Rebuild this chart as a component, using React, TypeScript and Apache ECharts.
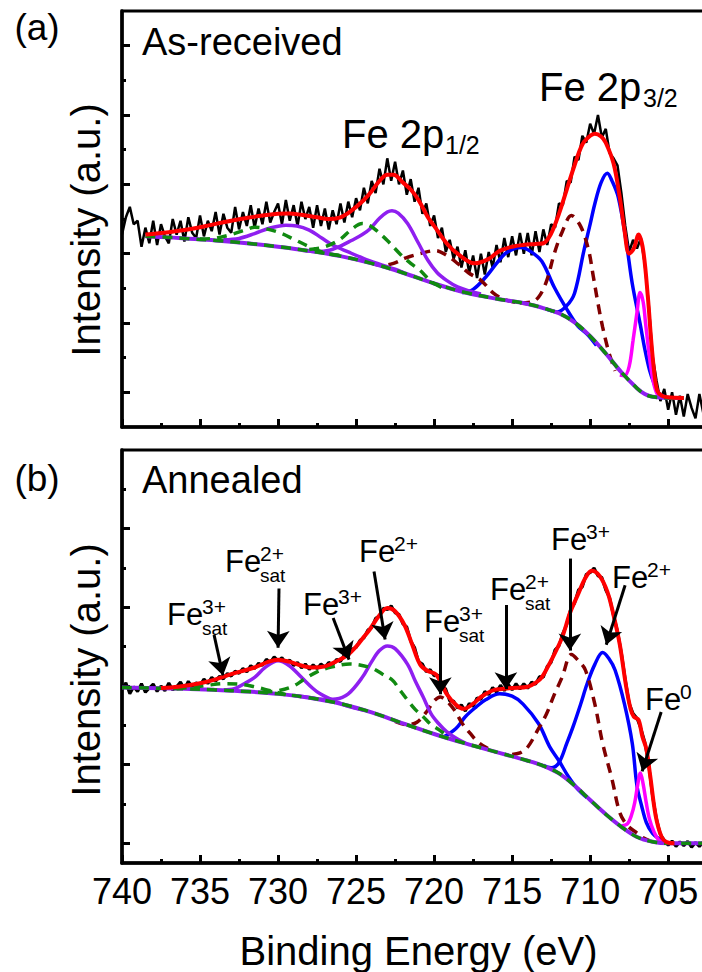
import React, { useEffect, useRef } from "react";
import * as echarts from "echarts";

const FONT = "'Liberation Sans', Arial, Helvetica, sans-serif";

// energy grid of the raw spectra (eV), from 740 down in 0.25 eV steps
const E_START = 740;
const E_STEP = 0.25;

// ---------- Panel (a): As-received ----------
const rawA = [
  5.55, 6.05, 6.35, 5.85, 5.95, 5.2, 5.75, 5.3, 5.95, 5.25,
  5.85, 5.5, 5.3, 6.0, 5.55, 5.95, 5.35, 6.05, 5.6, 5.45,
  6.1, 5.5, 5.95, 5.65, 6.2, 5.55, 6.15, 5.75, 5.6, 6.35,
  5.7, 6.2, 5.8, 6.4, 5.75, 6.3, 5.85, 6.5, 5.9, 6.2,
  6.45, 5.85, 6.55, 5.95, 6.4, 5.8, 6.5, 6.0, 6.35, 5.75,
  6.4, 5.8, 6.3, 5.7, 6.25, 5.85, 6.45, 5.9, 6.5, 6.05,
  6.6, 6.25, 6.9, 6.45, 7.1, 6.75, 7.45, 7.0, 7.75, 7.1,
  7.65, 7.0, 7.4, 6.7, 7.15, 6.5, 6.9, 6.15, 6.45, 5.8,
  6.1, 5.45, 5.75, 5.05, 5.4, 4.85, 5.2, 4.6, 5.1, 4.45,
  4.95, 4.3, 5.0, 4.4, 5.05, 4.6, 5.25, 4.75, 5.45, 4.9,
  5.5, 4.95, 5.6, 5.0, 5.6, 4.95, 5.65, 5.05, 5.7, 5.25,
  5.85, 5.75, 6.45, 6.4, 7.1, 7.05, 7.8, 7.7, 8.4, 8.2,
  8.75, 8.45, 9.0, 8.35, 8.6, 7.9, 7.75, 7.55, 6.75, 5.8,
  5.05, 5.4, 5.15, 5.45, 4.7, 3.55, 2.05, 1.35, 0.75, 1.1,
  0.5, 1.0, 0.35, 0.9, 0.3, 0.95, 0.55, 0.25, 0.95, 0.4,
  0.85,
];

const envelopeA = [
  [738.5, 5.55], [737, 5.62], [736, 5.68], [735, 5.76], [734, 5.86], [733, 5.95], [732, 6.03],
  [731, 6.1], [730, 6.15], [729.3, 6.16], [728.5, 6.12], [727.5, 6.05], [726.8, 6.0], [726, 6.05],
  [725.3, 6.24], [724.5, 6.55], [724, 6.8], [723.5, 7.1], [723, 7.28], [722.6, 7.28], [722, 7.05],
  [721.5, 6.85], [721, 6.55], [720.4, 6.05], [720, 5.8], [719.2, 5.3], [718.5, 5.0], [717.4, 4.72],
  [716.5, 4.85], [715.8, 5.08], [715, 5.2], [714.3, 5.25], [713.5, 5.28], [713, 5.3], [712.5, 5.58],
  [712, 6.15], [711.5, 6.85], [711, 7.55], [710.5, 8.15], [710, 8.4], [709.7, 8.46], [709.3, 8.38],
  [709, 8.2], [708.5, 7.6], [708.1, 6.62], [707.8, 5.67], [707.5, 5.0], [707.2, 5.15], [706.9, 5.55],
  [706.6, 5.09], [706.3, 3.74], [706.1, 2.56], [705.9, 1.6], [705.7, 1.05], [705.4, 0.9], [705, 0.86],
  [704, 0.84],
];

const backgroundA = [
  [738.5, 5.5], [737, 5.47], [736, 5.44], [734, 5.38], [732, 5.3], [730, 5.2], [728, 5.08],
  [726, 4.93], [724, 4.72], [722, 4.45], [720, 4.14], [718, 3.88], [716, 3.7], [714, 3.55],
  [713, 3.43], [712, 3.28], [711, 3.02], [710, 2.62], [709, 2.12], [708, 1.58], [707, 1.12],
  [706.5, 0.95], [706, 0.87], [705, 0.84], [704, 0.84],
];

const purpleA1 = [
  [733.5, 5.4], [732.5, 5.44], [731.5, 5.58], [730.5, 5.74], [729.5, 5.82], [728.8, 5.8],
  [728, 5.68], [727.2, 5.45], [726.5, 5.25], [725.5, 5.05], [724.5, 4.86], [723.5, 4.7],
  [722.5, 4.55], [722, 4.46],
];
const purpleA2 = [
  [728.5, 5.1], [727.5, 5.06], [726.7, 5.1], [726, 5.22], [725.3, 5.38], [724.6, 5.55],
  [724.1, 5.72], [723.5, 6.02], [723, 6.2], [722.7, 6.24], [722.3, 6.17], [721.7, 5.87],
  [721, 5.3], [720.4, 4.81], [719.8, 4.45], [719.2, 4.23], [718.5, 4.04], [717.7, 3.92], [717, 3.84],
];
const greenA1 = [
  [735, 5.42], [734, 5.45], [733, 5.55], [732, 5.7], [731.5, 5.76], [731, 5.74], [730, 5.62],
  [729, 5.42], [728, 5.2], [727, 5.02], [726, 4.95],
];
const greenA2 = [
  [728, 5.12], [727, 5.2], [726, 5.42], [725.3, 5.7], [724.6, 5.87], [724.1, 5.8], [723.7, 5.67],
  [723, 5.38], [722.2, 5.0], [721.5, 4.72], [720.9, 4.52], [720.2, 4.2], [719.5, 4.02],
];
const brownA1 = [
  [724, 4.72], [723.3, 4.66], [722.6, 4.72], [721.8, 4.88], [720.9, 5.0], [719.9, 5.09],
  [719.2, 4.95], [718.5, 4.72], [717.8, 4.45], [717, 4.23], [716.2, 3.86], [715.5, 3.68],
  [714.8, 3.6], [714, 3.55],
];
const brownA2 = [
  [714.5, 3.58], [713.8, 3.6], [713.3, 3.75], [712.8, 4.2], [712.3, 5.0], [711.8, 5.62],
  [711.2, 6.1], [710.6, 5.78], [710.1, 5.1], [709.8, 4.35], [709.5, 3.57], [709.2, 2.88],
  [708.8, 2.15], [708.4, 1.62],
];
const blueA1 = [
  [718.2, 3.87], [717.5, 3.97], [716.7, 4.32], [716, 4.72], [715.5, 4.98], [714.9, 5.14],
  [714.4, 5.18], [713.8, 5.06], [713.1, 4.78], [712.3, 4.03], [711.5, 3.4], [710.8, 2.92],
  [710.2, 2.68], [709.6, 2.35],
];
const blueA2 = [
  [712.8, 3.4], [712.1, 3.32], [711.5, 3.5], [711, 3.86], [710.4, 5.09], [710, 5.85],
  [709.7, 6.44], [709.3, 7.05], [708.9, 7.32], [708.6, 7.1], [708.2, 6.63], [707.7, 5.38],
  [707.3, 4.13], [706.8, 2.98], [706.5, 2.25], [706.2, 1.65], [705.9, 1.25], [705.6, 0.98],
  [705.2, 0.87], [704.8, 0.84],
];
const magentaA = [
  [708.1, 1.5], [707.8, 1.48], [707.5, 1.75], [707.25, 2.5], [707, 3.3], [706.8, 3.88],
  [706.6, 3.6], [706.45, 3.0], [706.3, 2.4], [706.15, 1.84], [705.95, 1.3], [705.7, 0.95],
  [705.4, 0.86],
];

// ---------- Panel (b): Annealed ----------
const rawB = [
  3.92, 4.08, 3.8, 3.98, 3.86, 4.06, 3.84, 3.95, 4.05, 3.86,
  4.0, 3.88, 4.08, 3.9, 3.98, 4.1, 3.92, 4.12, 3.98, 4.08,
  4.02, 4.18, 4.06, 4.22, 4.12, 4.25, 4.18, 4.32, 4.25, 4.38,
  4.32, 4.45, 4.36, 4.52, 4.44, 4.58, 4.52, 4.68, 4.6, 4.74,
  4.64, 4.72, 4.58, 4.66, 4.52, 4.6, 4.46, 4.56, 4.42, 4.54,
  4.44, 4.56, 4.48, 4.6, 4.54, 4.68, 4.62, 4.8, 4.76, 4.94,
  4.98, 5.16, 5.22, 5.42, 5.48, 5.72, 5.78, 5.98, 5.94, 6.04,
  5.86, 5.82, 5.58, 5.5, 5.14, 4.98, 4.62, 4.56, 4.36, 4.42,
  4.26, 4.28, 4.02, 3.92, 3.62, 3.62, 3.44, 3.52, 3.36, 3.56,
  3.48, 3.7, 3.66, 3.86, 3.78, 3.96, 3.84, 4.02, 3.88, 4.04,
  3.9, 4.06, 3.92, 4.06, 3.94, 4.1, 4.04, 4.24, 4.22, 4.5,
  4.6, 4.92, 5.02, 5.34, 5.56, 5.96, 6.1, 6.44, 6.52, 6.84,
  6.88, 7.0, 6.8, 6.76, 6.44, 6.24, 5.78, 5.4, 4.84, 4.16,
  3.56, 3.3, 3.18, 2.92, 2.58, 2.0, 1.2, 0.62, 0.22, 0.08,
  -0.05, 0.06, -0.08, 0.04, -0.06, 0.05, -0.1, 0.02, -0.08, 0.04,
  -0.06,
];

const envelopeB = [
  [737.5, 3.95], [736.4, 3.98], [735, 4.07], [734, 4.17], [733, 4.3], [731.5, 4.47], [730.6, 4.62],
  [730, 4.67], [729.3, 4.62], [728.5, 4.52], [727.8, 4.47], [727, 4.5], [726.3, 4.62], [725.6, 4.77],
  [725, 5.0], [724.5, 5.25], [724.1, 5.45], [723.5, 5.8], [723, 5.98], [722.5, 5.9], [721.9, 5.55],
  [721.4, 5.05], [720.9, 4.55], [720.4, 4.38], [719.9, 4.3], [719.5, 4.05], [719.2, 3.8],
  [718.6, 3.52], [718.1, 3.42], [717.5, 3.55], [717, 3.72], [716.3, 3.88], [715.8, 3.92],
  [715, 3.95], [714, 3.98], [713.5, 4.08], [713.1, 4.22], [712.5, 4.65], [711.8, 5.23],
  [711.3, 5.85], [710.8, 6.31], [710.3, 6.75], [709.9, 6.93], [709.4, 6.8], [708.9, 6.4],
  [708.5, 5.8], [708.1, 5.05], [707.7, 4.0], [707.4, 3.4], [707.2, 3.22], [706.9, 3.14],
  [706.65, 2.71], [706.4, 2.4], [706.15, 1.71], [705.8, 0.7], [705.42, 0.16], [705.1, 0.03],
  [704.6, 0.0],
];

const backgroundB = [
  [740, 3.96], [736, 3.93], [734, 3.9], [732, 3.86], [730, 3.8], [728, 3.7], [726, 3.55],
  [724, 3.33], [722, 3.05], [720, 2.78], [718, 2.54], [716, 2.32], [714, 2.1], [713, 1.97],
  [712, 1.78], [711, 1.47], [710, 1.1], [709, 0.74], [708, 0.42], [707, 0.16], [706, 0.04],
  [705, 0.0], [702.5, 0.0],
];

const purpleB1 = [
  [733.5, 3.9], [732.8, 3.93], [732.2, 4.05], [731.5, 4.22], [730.8, 4.48], [730, 4.64],
  [729.3, 4.52], [728.5, 4.22], [727.8, 3.95], [727.3, 3.8], [726.5, 3.64], [725.5, 3.48],
  [724.5, 3.38],
];
const purpleB2 = [
  [729, 3.76], [728, 3.71], [727.2, 3.66], [726.3, 3.67], [725.5, 3.8], [724.6, 4.22],
  [724, 4.62], [723.5, 4.9], [723, 5.02], [722.5, 4.95], [721.7, 4.55], [721.2, 4.12],
  [720.7, 3.72], [720.2, 3.3], [719.7, 3.04], [719.2, 2.84], [718.5, 2.65], [718, 2.55],
];
const greenB1 = [
  [736.5, 3.93], [735.5, 3.97], [734.5, 4.02], [733.5, 4.06], [732.5, 4.05], [731.5, 3.98],
  [730.5, 3.88], [729.5, 3.78],
];
const greenB2 = [
  [731, 3.84], [730, 3.88], [729, 4.0], [728.3, 4.18], [727.5, 4.36], [726.6, 4.48],
  [725.4, 4.56], [724.1, 4.47], [723.3, 4.3], [722.65, 4.14], [722.2, 3.9], [721.7, 3.64],
  [721.2, 3.4], [720.7, 3.22], [720.2, 3.02], [719.7, 2.89], [719, 2.68],
];
const brownB1 = [
  [722.5, 3.1], [721.8, 3.02], [721.1, 3.08], [720.4, 3.39], [720, 3.62], [719.6, 3.72],
  [719.2, 3.62], [718.7, 3.39], [718.2, 3.05], [717.7, 2.8], [717.2, 2.58], [716.6, 2.42],
  [716, 2.32],
];
const brownB2 = [
  [715, 2.26], [714.5, 2.3], [714, 2.45], [713.4, 2.85], [712.8, 3.29], [712.3, 3.78],
  [711.8, 4.22], [711.2, 4.8], [710.7, 4.62], [710.3, 4.4], [709.7, 3.54], [709.2, 2.54],
  [708.6, 1.63], [708.1, 0.78], [707.6, 0.45], [707, 0.26], [706.6, 0.14], [706.2, 0.07],
];
const blueB1 = [
  [719.4, 2.7], [718.6, 2.92], [718, 3.22], [717.3, 3.47], [716.7, 3.65], [715.8, 3.8],
  [715, 3.74], [714.3, 3.54], [713.3, 3.04], [712.6, 2.46], [712, 2.1], [711.4, 1.7],
  [710.8, 1.38], [710.2, 1.16],
];
const blueB2 = [
  [713, 1.98], [712.5, 1.92], [712, 2.05], [711.5, 2.54], [711.1, 2.96], [710.6, 3.55],
  [710.2, 4.05], [709.7, 4.55], [709.2, 4.85], [708.8, 4.7], [708.4, 4.4], [707.8, 3.54],
  [707.3, 2.54], [707, 1.46], [706.7, 0.95], [706.4, 0.53], [706, 0.25], [705.6, 0.12],
  [705.2, 0.04],
];
const magentaB = [
  [708, 0.44], [707.6, 0.5], [707.35, 0.72], [707.14, 1.04], [706.95, 1.5], [706.78, 1.79],
  [706.6, 1.5], [706.41, 1.04], [706.2, 0.62], [705.9, 0.28], [705.6, 0.08], [705.3, 0.02],
];

// arrows of panel (b), [from, to] in data coordinates (eV, intensity)
const arrowsB = [
  [[734.1, 5.3], [733.53, 4.27]],
  [[729.94, 6.48], [730.0, 4.97]],
  [[726.47, 5.73], [725.45, 4.67]],
  [[723.85, 6.91], [723.14, 5.18]],
  [[719.6, 5.23], [719.6, 3.79]],
  [[715.4, 6.06], [715.4, 3.92]],
  [[711.3, 7.24], [711.3, 4.9]],
  [[707.76, 6.56], [708.97, 5.05]],
  [[705.45, 3.34], [706.67, 1.83]],
];

// ticks
const xMajorTicks = [740, 735, 730, 725, 720, 715, 710, 705];
const xMinorTicks = [737.5, 732.5, 727.5, 722.5, 717.5, 712.5, 707.5, 702.5];
const yMajorA = [1, 3, 5, 7, 9, 11];
const yMinorA = [2, 4, 6, 8, 10];
const yMajorB = [0, 2, 4, 6, 8];
const yMinorB = [1, 3, 5, 7, 9];

const X_MIN = 702;
const X_MAX = 740;

// labels of panel (b): position of "Fe", superscript, subscript
const feLabels = [
  { x: 167, y: 614, sup: "3+", sub: "sat" },
  { x: 225, y: 561, sup: "2+", sub: "sat" },
  { x: 303, y: 604, sup: "3+", sub: "" },
  { x: 359, y: 551, sup: "2+", sub: "" },
  { x: 424, y: 621, sup: "3+", sub: "sat" },
  { x: 490, y: 589, sup: "2+", sub: "sat" },
  { x: 551, y: 539, sup: "3+", sub: "" },
  { x: 612, y: 577, sup: "2+", sub: "" },
  { x: 645, y: 699, sup: "0", sub: "" },
];

function rawSeries(values: number[]) {
  return values.map((v, i) => [E_START - i * E_STEP, v]);
}

function txt(x: number, y: number, text: string, size: number, align = "left", rotation = 0) {
  return {
    type: "text",
    x,
    y,
    rotation,
    silent: true,
    style: { text, fontSize: size, fontFamily: FONT, fill: "#000", align, verticalAlign: "middle" },
  };
}

function curve(name: string, data: number[][], color: string, width: number, panel: number, opts: any = {}) {
  return {
    name,
    type: "line",
    xAxisIndex: panel * 2,
    yAxisIndex: panel * 2,
    data,
    showSymbol: false,
    symbol: "none",
    smooth: opts.smooth === undefined ? 0.35 : opts.smooth,
    lineStyle: { color, width, type: opts.dash ? [10, 7] : "solid", cap: "butt" },
    z: opts.z || 2,
    silent: true,
    ...(opts.extra || {}),
  };
}

const BLACK = "#000000";
const RED = "#ff0000";
const BLUE = "#0000ff";
const PURPLE = "#8f1ff0";
const MAGENTA = "#ff00ff";
const GREEN = "#118a11";
const BROWN = "#800000";

function xAxes(grid: number, labels: boolean) {
  const common = {
    type: "value",
    gridIndex: grid,
    min: X_MIN,
    max: X_MAX,
    inverse: true,
    position: "bottom",
    splitLine: { show: false },
  };
  return [
    {
      ...common,
      axisLine: { show: true, onZero: false, lineStyle: { color: BLACK, width: 3.5 } },
      axisTick: { show: true, inside: true, length: 8, lineStyle: { color: BLACK, width: 3 }, customValues: xMajorTicks },
      axisLabel: labels
        ? { show: true, customValues: xMajorTicks, fontSize: 36, fontFamily: FONT, color: BLACK, margin: 10 }
        : { show: false },
      ...(labels
        ? {
            name: "Binding Energy (eV)",
            nameLocation: "middle",
            nameGap: 68,
            nameTextStyle: { fontSize: 40, fontFamily: FONT, color: BLACK },
          }
        : {}),
    },
    {
      ...common,
      axisLine: { show: false, onZero: false },
      axisTick: { show: true, inside: true, length: 4, lineStyle: { color: BLACK, width: 3 }, customValues: xMinorTicks },
      axisLabel: { show: false },
    },
  ];
}

function yAxes(grid: number, min: number, max: number, major: number[], minor: number[]) {
  const common = {
    type: "value",
    gridIndex: grid,
    min,
    max,
    position: "left",
    splitLine: { show: false },
    axisLabel: { show: false },
  };
  return [
    {
      ...common,
      axisLine: { show: true, onZero: false, lineStyle: { color: BLACK, width: 3.5 } },
      axisTick: { show: true, inside: true, length: 8, lineStyle: { color: BLACK, width: 3 }, customValues: major },
    },
    {
      ...common,
      axisLine: { show: false, onZero: false },
      axisTick: { show: true, inside: true, length: 4, lineStyle: { color: BLACK, width: 3 }, customValues: minor },
    },
  ];
}

function buildOption() {
  const graphics: any[] = [
    txt(37, 27, "(a)", 37, "center"),
    txt(142, 42, "As-received", 38),
    txt(342, 134, "Fe 2p", 40),
    txt(445, 145, "1/2", 25),
    txt(539, 87, "Fe 2p", 40),
    txt(643, 98, "3/2", 25),
    txt(37, 478, "(b)", 37, "center"),
    txt(142, 480, "Annealed", 38),
    txt(86, 230, "Intensity (a.u.)", 40, "center", Math.PI / 2),
    txt(86, 670, "Intensity (a.u.)", 40, "center", Math.PI / 2),
  ];
  feLabels.forEach((l) => {
    graphics.push(txt(l.x, l.y, "Fe", 31));
    graphics.push(txt(l.x + 35, l.y - 8, l.sup, 21));
    if (l.sub) graphics.push(txt(l.x + 35, l.y + 14, l.sub, 19));
  });

  const arrowLines = arrowsB.map((a) => [
    { coord: a[0], symbol: "none" },
    { coord: a[1], symbol: "arrow", symbolSize: 17 },
  ]);

  const series = [
    // panel (a)
    curve("rawA", rawSeries(rawA), BLACK, 2.5, 0, { smooth: false, z: 1 }),
    curve("blueA1", blueA1, BLUE, 3.5, 0),
    curve("blueA2", blueA2, BLUE, 3.5, 0),
    curve("brownA1", brownA1, BROWN, 3.5, 0, { dash: true }),
    curve("brownA2", brownA2, BROWN, 3.5, 0, { dash: true }),
    curve("magentaA", magentaA, MAGENTA, 3.5, 0),
    curve("purpleA1", purpleA1, PURPLE, 3.5, 0),
    curve("purpleA2", purpleA2, PURPLE, 3.5, 0),
    curve("bgA", backgroundA, PURPLE, 4, 0),
    curve("greenA1", greenA1, GREEN, 3.5, 0, { dash: true }),
    curve("greenA2", greenA2, GREEN, 3.5, 0, { dash: true }),
    curve("bgA-dash", backgroundA, GREEN, 3.5, 0, { dash: true }),
    curve("envelopeA", envelopeA, RED, 4, 0, { z: 3 }),
    // panel (b)
    curve("rawB", rawSeries(rawB), BLACK, 3, 1, { smooth: false, z: 1 }),
    curve("blueB1", blueB1, BLUE, 3.5, 1),
    curve("blueB2", blueB2, BLUE, 3.5, 1),
    curve("brownB1", brownB1, BROWN, 3.5, 1, { dash: true }),
    curve("brownB2", brownB2, BROWN, 3.5, 1, { dash: true }),
    curve("magentaB", magentaB, MAGENTA, 3.5, 1),
    curve("purpleB1", purpleB1, PURPLE, 3.5, 1),
    curve("purpleB2", purpleB2, PURPLE, 3.5, 1),
    curve("bgB", backgroundB, PURPLE, 4, 1),
    curve("greenB1", greenB1, GREEN, 3.5, 1, { dash: true }),
    curve("greenB2", greenB2, GREEN, 3.5, 1, { dash: true }),
    curve("bgB-dash", backgroundB, GREEN, 3.5, 1, { dash: true }),
    curve("envelopeB", envelopeB, RED, 4, 1, {
      z: 3,
      extra: {
        markLine: {
          silent: true,
          animation: false,
          symbol: ["none", "arrow"],
          symbolSize: 17,
          label: { show: false },
          lineStyle: { color: BLACK, width: 3, type: "solid" },
          itemStyle: { color: BLACK },
          emphasis: { disabled: true },
          data: arrowLines,
        },
      },
    }),
  ];

  return {
    animation: false,
    backgroundColor: "#ffffff",
    textStyle: { fontFamily: FONT },
    grid: [
      { left: 122, top: 11, width: 593, height: 416, show: true, borderColor: BLACK, borderWidth: 3, containLabel: false },
      { left: 122, top: 450, width: 593, height: 418, show: true, borderColor: BLACK, borderWidth: 3, containLabel: false },
    ],
    xAxis: [...xAxes(0, false), ...xAxes(1, true)],
    yAxis: [...yAxes(0, 0, 12, yMajorA, yMinorA), ...yAxes(1, -0.5, 10, yMajorB, yMinorB)],
    series,
    graphic: graphics,
  };
}

export default function App() {
  const ref = useRef<HTMLDivElement>(null);
  useEffect(() => {
    if (!ref.current) return;
    const chart = echarts.init(ref.current, undefined, { renderer: "svg" });
    chart.setOption(buildOption() as any);
    return () => chart.dispose();
  }, []);
  return (
    <div
      style={{
        position: "fixed",
        left: 0,
        top: 0,
        width: 702,
        height: 972,
        overflow: "hidden",
        background: "#ffffff",
      }}
    >
      <div ref={ref} style={{ width: 720, height: 972 }} />
    </div>
  );
}
